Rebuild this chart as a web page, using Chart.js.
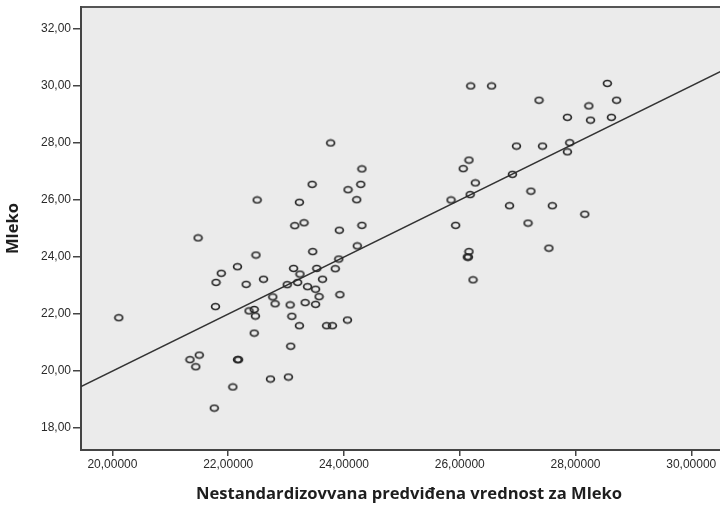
<!DOCTYPE html>
<html>
<head>
<meta charset="utf-8">
<script src="https://cdn.jsdelivr.net/npm/chart.js@4.4.0/dist/chart.umd.min.js"></script>
<style>
    html, body { margin: 0; padding: 0; overflow: hidden; background: #fff; }
</style>
</head>
<body>
<canvas id="scatter" width="742" height="505"></canvas>
<script>
// x: nestandardizovana predviđena vrednost, y: Mleko
var predicted = [
    20.11, 21.34, 21.50, 21.44, 22.16, 22.18, 22.08, 21.76, 21.78, 21.79,
    21.88, 22.16, 22.48, 22.31, 22.61, 22.36, 22.45, 22.47, 22.45, 22.73,
    23.04, 23.08, 22.77, 22.81, 23.07, 23.10, 23.23, 23.02, 23.13, 23.20,
    23.24, 23.33, 23.37, 23.51, 23.57, 23.51, 23.53, 23.63, 23.85, 23.91,
    23.93, 23.70, 23.80, 24.06, 23.46, 21.48, 22.50, 23.15, 23.31, 23.23,
    23.45, 23.77, 23.92, 24.07, 24.22, 24.29, 24.31, 24.31, 24.23,
    26.19, 26.55, 28.55, 27.37, 28.71, 28.23, 27.86, 28.26, 28.62, 26.98,
    27.43, 27.90, 27.86, 26.16, 26.06, 26.27, 26.91, 26.18, 25.85, 27.23,
    26.86, 27.60, 28.16, 27.18, 25.93, 27.54, 26.16, 26.13, 26.15, 26.23
];
var milk = [
    21.87, 20.40, 20.56, 20.15, 20.40, 20.40, 19.44, 18.70, 22.26, 23.11,
    23.43, 23.66, 24.07, 23.04, 23.22, 22.11, 22.16, 21.93, 21.33, 19.72,
    19.79, 20.87, 22.60, 22.36, 22.32, 21.92, 21.59, 23.03, 23.60, 23.11,
    23.40, 22.40, 22.96, 22.87, 22.61, 22.34, 23.60, 23.22, 23.59, 23.93,
    22.68, 21.59, 21.59, 21.79, 24.19, 24.67, 26.00, 25.10, 25.20, 25.92,
    26.55, 28.00, 24.94, 26.36, 26.01, 26.55, 27.09, 25.11, 24.39,
    30.00, 30.00, 30.09, 29.50, 29.50, 29.30, 28.90, 28.80, 28.90, 27.89,
    27.89, 28.01, 27.69, 27.40, 27.10, 26.60, 26.90, 26.19, 26.00, 26.31,
    25.80, 25.80, 25.50, 25.19, 25.11, 24.31, 24.19, 24.00, 24.00, 23.20
];
var xTicks = [20, 22, 24, 26, 28, 30];
var yTicks = [18, 20, 22, 24, 26, 28, 30, 32];
var xRange = [19.457, 30.79];
var yRange = [17.23, 32.77];
// fit line of Mleko on its own prediction: y = x
var fitLine = [19.457, 30.79];

var axisColor = '#444';
var tickFont = { family: '"Liberation Sans", Arial, sans-serif', size: 12 };
var titleFont = { family: '"Open Sans", Lato, sans-serif', size: 16.6, weight: 'bold' };

function ringMarker() {
    var c = document.createElement('canvas');
    c.width = 11;
    c.height = 9;
    var g = c.getContext('2d');
    g.strokeStyle = '#262626';
    g.lineWidth = 1.7;
    g.beginPath();
    g.ellipse(5.5, 4.5, 3.9, 3.0, 0, 0, 2 * Math.PI);
    g.stroke();
    return c;
}

var plotBackground = {
    id: 'plotBackground',
    beforeDraw: function (chart) {
        var a = chart.chartArea;
        var ctx = chart.ctx;
        ctx.save();
        ctx.fillStyle = '#ebebeb';
        ctx.fillRect(a.left, a.top, a.right - a.left, a.bottom - a.top);
        ctx.strokeStyle = '#555';
        ctx.lineWidth = 2;
        ctx.beginPath();
        ctx.moveTo(a.left, a.top);
        ctx.lineTo(a.right, a.top);
        ctx.stroke();
        ctx.restore();
    }
};

var points = predicted.map(function (v, i) {
    return { x: v, y: milk[i] };
});

new Chart(document.getElementById('scatter'), {
    type: 'scatter',
    data: {
        datasets: [
            {
                label: 'Mleko',
                data: points,
                pointStyle: ringMarker(),
                pointRadius: 4
            },
            {
                type: 'line',
                label: 'fit',
                data: fitLine.map(function (v) { return { x: v, y: v }; }),
                borderColor: '#333',
                borderWidth: 1.5,
                pointRadius: 0,
                fill: false
            }
        ]
    },
    options: {
        responsive: false,
        animation: false,
        devicePixelRatio: 1,
        layout: { padding: { top: 7, left: 0, right: 0, bottom: 0 } },
        plugins: {
            legend: { display: false },
            tooltip: { enabled: false }
        },
        scales: {
            x: {
                type: 'linear',
                min: xRange[0],
                max: xRange[1],
                afterBuildTicks: function (s) {
                    s.ticks = xTicks.map(function (v) { return { value: v }; });
                },
                afterFit: function (s) {
                    s.height = 55;
                    s.paddingLeft = 0;
                    s.paddingRight = 0;
                },
                ticks: {
                    color: '#2a2a2a',
                    font: tickFont,
                    padding: 1,
                    callback: function (v) { return v.toFixed(5).replace('.', ','); }
                },
                grid: { drawOnChartArea: false, tickLength: 6, color: axisColor, lineWidth: 1.5 },
                border: { color: axisColor, width: 2 },
                title: {
                    display: true,
                    text: 'Nestandardizovvana predviđena vrednost za Mleko',
                    color: '#1e1e1e',
                    font: titleFont,
                    padding: { top: 0, bottom: 1 }
                }
            },
            y: {
                min: yRange[0],
                max: yRange[1],
                afterBuildTicks: function (s) {
                    s.ticks = yTicks.map(function (v) { return { value: v }; });
                },
                afterFit: function (s) {
                    s.width = 81;
                    s.paddingTop = 0;
                    s.paddingBottom = 0;
                },
                ticks: {
                    color: '#2a2a2a',
                    font: tickFont,
                    padding: 2,
                    callback: function (v) { return v.toFixed(2).replace('.', ','); }
                },
                grid: { drawOnChartArea: false, tickLength: 8, color: axisColor, lineWidth: 1.5 },
                border: { color: axisColor, width: 2 },
                title: {
                    display: true,
                    text: 'Mleko',
                    color: '#1e1e1e',
                    font: titleFont,
                    padding: { top: 3, bottom: 0 }
                }
            }
        }
    },
    plugins: [plotBackground]
});
</script>
</body>
</html>
